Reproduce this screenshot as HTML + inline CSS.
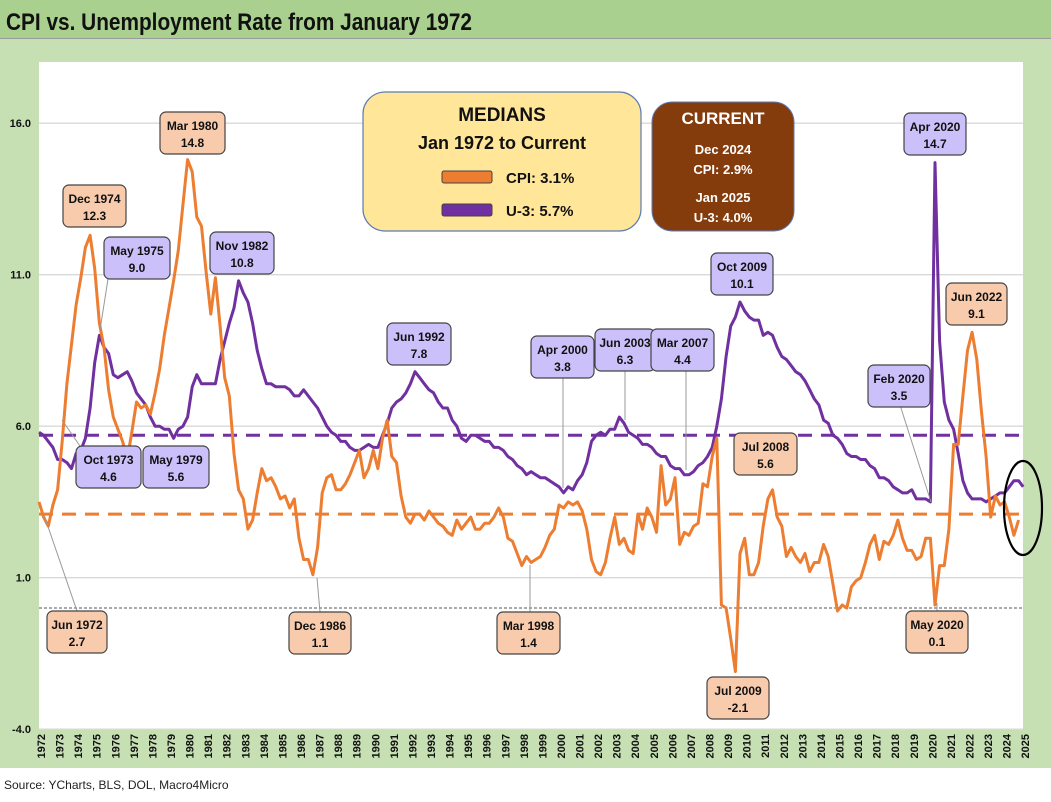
<!DOCTYPE html>
<html><head><meta charset="utf-8"><style>
body{margin:0;width:1051px;height:797px;overflow:hidden;background:#fff;font-family:"Liberation Sans",sans-serif}
svg text{font-family:"Liberation Sans",sans-serif}
</style></head><body>
<svg id="chart" width="1051" height="797" xmlns="http://www.w3.org/2000/svg">
<rect x="0" y="0" width="1051" height="38" fill="#a9d08e"/>
<line x1="0" y1="38.5" x2="1051" y2="38.5" stroke="#999"/>
<text x="6" y="30" font-size="24" font-weight="bold" fill="#111" textLength="466" lengthAdjust="spacingAndGlyphs">CPI vs. Unemployment Rate from January 1972</text>
<rect x="0" y="39" width="1051" height="729" fill="#c6e0b4"/>
<rect x="39" y="62" width="984" height="667" fill="#fff"/>
<g id="grid"></g><g id="yticks"></g><g id="xticks"></g><g id="series"></g><g id="notes"></g>
<text x="4" y="789" font-size="12" fill="#222">Source: YCharts, BLS, DOL, Macro4Micro</text>
</svg>
<script>
const startYear = 1972;
const yTicks = [16, 11, 6, 1, -4];
const years = [1972,1973,1974,1975,1976,1977,1978,1979,1980,1981,1982,1983,1984,1985,1986,1987,1988,1989,1990,1991,1992,1993,1994,1995,1996,1997,1998,1999,2000,2001,2002,2003,2004,2005,2006,2007,2008,2009,2010,2011,2012,2013,2014,2015,2016,2017,2018,2019,2020,2021,2022,2023,2024,2025];
const cpiMedian = 3.1;
const u3Median = 5.7;
// quarterly, starting Jan 1972
const cpi = [3.5,3.0,2.7,3.4, 3.9,5.5,7.4,8.7, 10.0,10.9,11.9,12.3, 11.2,9.4,8.6,7.2, 6.3,5.9,5.5,4.9, 5.8,6.8,6.6,6.7, 6.4,7.1,7.9,9.0, 9.9,10.8,11.8,13.3, 14.8,14.4,12.9,12.6, 11.1,9.7,10.9,9.3, 7.6,7.0,5.1,3.9, 3.6,2.6,2.9,3.8, 4.6,4.2,4.3,4.0, 3.6,3.7,3.3,3.6, 2.3,1.6,1.6,1.1, 2.0,3.8,4.3,4.4, 3.9,3.9,4.1,4.4, 4.8,5.2,4.3,4.6, 5.2,4.6,5.6,6.2, 5.0,4.8,3.7,3.0, 2.8,3.1,3.1,2.9, 3.2,3.0,2.8,2.7, 2.5,2.4,2.9,2.6, 2.8,3.0,2.6,2.6, 2.8,2.8,3.0,3.3, 3.0,2.3,2.2,1.8, 1.4,1.7,1.5,1.6, 1.7,2.0,2.4,2.6, 3.4,3.3,3.5,3.4, 3.5,3.2,2.6,1.6, 1.2,1.1,1.5,2.3, 3.0,2.1,2.3,1.9, 1.8,3.1,2.6,3.3, 3.0,2.5,4.7,3.4, 3.6,4.3,2.1,2.5, 2.4,2.7,2.8,4.1, 4.0,5.0,5.6,0.1, 0.0,-1.0,-2.1,1.8, 2.3,1.1,1.1,1.5, 2.7,3.6,3.9,3.0, 2.7,1.7,2.0,1.7, 1.5,1.8,1.2,1.5, 1.5,2.1,1.7,0.8, -0.1,0.1,0.0,0.7, 0.9,1.0,1.5,2.1, 2.4,1.6,2.2,2.1, 2.4,2.9,2.3,1.9, 1.9,1.6,1.7,2.3, 2.3,0.1,1.4,1.4, 2.6,5.4,5.4,7.0, 8.5,9.1,8.2,6.5, 5.0,3.0,3.7,3.4, 3.5,3.0,2.4,2.9];
const u3 = [5.8,5.7,5.5,5.3, 4.9,4.9,4.8,4.6, 5.1,5.2,5.6,6.6, 8.1,9.0,8.6,8.4, 7.7,7.6,7.7,7.8, 7.5,7.1,6.9,6.7, 6.3,6.0,6.0,5.9, 5.9,5.6,5.9,6.0, 6.3,7.3,7.7,7.4, 7.4,7.4,7.4,8.2, 8.8,9.4,9.9,10.8, 10.4,10.1,9.4,8.5, 7.9,7.4,7.4,7.3, 7.3,7.3,7.2,7.0, 7.0,7.2,7.0,6.8, 6.6,6.3,6.0,5.8, 5.7,5.5,5.5,5.3, 5.2,5.2,5.3,5.4, 5.3,5.3,5.7,6.1, 6.6,6.8,6.9,7.1, 7.4,7.8,7.6,7.4, 7.2,7.1,6.8,6.6, 6.6,6.2,6.0,5.6, 5.5,5.7,5.7,5.6, 5.5,5.5,5.3,5.3, 5.2,5.0,4.9,4.7, 4.6,4.4,4.5,4.4, 4.3,4.3,4.2,4.1, 4.0,3.8,4.0,3.9, 4.2,4.4,4.8,5.5, 5.7,5.8,5.7,5.9, 5.9,6.3,6.1,5.8, 5.7,5.6,5.4,5.4, 5.3,5.1,5.0,5.0, 4.7,4.6,4.6,4.4, 4.4,4.5,4.7,4.8, 5.0,5.3,6.0,6.9, 8.3,9.3,9.6,10.1, 9.8,9.6,9.5,9.5, 9.0,9.1,9.0,8.6, 8.3,8.2,8.0,7.8, 7.7,7.5,7.2,6.9, 6.7,6.2,6.1,5.7, 5.6,5.4,5.1,5.0, 5.0,4.9,4.9,4.7, 4.6,4.3,4.3,4.2, 4.0,3.9,3.8,3.8, 3.9,3.6,3.6,3.6, 3.5,14.7,8.8,6.8, 6.2,5.9,5.1,4.2, 3.8,3.6,3.6,3.6, 3.5,3.6,3.7,3.8, 3.8,4.0,4.2,4.2, 4.0];

const NS = "http://www.w3.org/2000/svg";
const X0 = 39, PXY = 18.57, Y0 = 608, PXU = 30.3;
function xScale(yr){ return X0 + (yr - startYear) * PXY; }
function yScale(v){ return Y0 - v * PXU; }
function mk(tag, attrs, parent){ const e = document.createElementNS(NS, tag); for (const k in attrs) e.setAttribute(k, attrs[k]); parent.appendChild(e); return e; }

const grid = document.getElementById('grid'), yt = document.getElementById('yticks'), xt = document.getElementById('xticks');
yTicks.forEach(v => {
  const l = mk('line', {x1: 39, x2: 1023, y1: yScale(v), y2: yScale(v), stroke: '#d9d9d9', 'stroke-width': 1.3}, grid);
  
  
  const t = mk('text', {x: 31, y: yScale(v) + 4, 'font-size': 11, 'font-weight': 'bold', 'text-anchor': 'end', fill: '#111'}, yt);
  t.textContent = v.toFixed(1);
  
  
});
const zl = mk('line', {x1: 39, x2: 1023, y1: yScale(0), y2: yScale(0), stroke: '#555', 'stroke-width': 1, 'stroke-dasharray': '3,2'}, grid);


years.forEach(y => {
  const x = xScale(y);
  const t = mk('text', {x: 0, y: 0, 'font-size': 11, 'font-weight': 'bold', 'text-anchor': 'end', fill: '#111', transform: `translate(${x + 6},734) rotate(-90)`}, xt);
  t.textContent = y;
  
  
});

const sg = document.getElementById('series');
const mc = mk('line', {x1: 39, x2: 1023, y1: yScale(cpiMedian), y2: yScale(cpiMedian), stroke: '#ed7d31', 'stroke-width': 3, 'stroke-dasharray': '14,9'}, sg);


const mu = mk('line', {x1: 39, x2: 1023, y1: yScale(u3Median), y2: yScale(u3Median), stroke: '#7030a0', 'stroke-width': 3, 'stroke-dasharray': '14,9'}, sg);


function path(arr){ return arr.map((v,i) => (i ? 'L' : 'M') + xScale(startYear + i/4).toFixed(1) + ',' + yScale(v).toFixed(1)).join(''); }
const pu = mk('path', {d: path(u3), fill: 'none', stroke: '#7030a0', 'stroke-width': 3, 'stroke-linejoin': 'round'}, sg);


const pc = mk('path', {d: path(cpi), fill: 'none', stroke: '#ed7d31', 'stroke-width': 3, 'stroke-linejoin': 'round'}, sg);



const notes = document.getElementById('notes');
const O = '#f8cbad', P = '#ccc0fa';
const ann = [
 ['Mar 1980','14.8',160,112,65,O,null],
 ['Dec 1974','12.3',63,185,63,O,null],
 ['May 1975','9.0',104,237,66,P,[108,279,100,330]],
 ['Nov 1982','10.8',210,232,64,P,null],
 ['Oct 1973','4.6',76,446,65,P,[80,446,62,420]],
 ['May 1979','5.6',143,446,66,P,null],
 ['Jun 1972','2.7',47,611,60,O,[77,611,44,515]],
 ['Dec 1986','1.1',289,612,62,O,[320,612,317,578]],
 ['Jun 1992','7.8',387,323,64,P,null],
 ['Apr 2000','3.8',531,336,63,P,[563,378,563,488]],
 ['Jun 2003','6.3',595,329,60,P,[625,371,625,420]],
 ['Mar 2007','4.4',651,329,63,P,[686,371,686,470]],
 ['Mar 1998','1.4',497,612,63,O,[530,612,530,565]],
 ['Oct 2009','10.1',711,253,62,P,null],
 ['Jul 2008','5.6',734,433,63,O,null],
 ['Jul 2009','-2.1',707,677,62,O,null],
 ['Apr 2020','14.7',904,113,62,P,null],
 ['Jun 2022','9.1',946,283,61,O,null],
 ['Feb 2020','3.5',868,365,62,P,[900,405,931,502]],
 ['May 2020','0.1',906,611,62,O,[937,611,937,603]]
];
ann.forEach(a => {
  const g = mk('g', {}, notes);
  
  
  if (a[6]) mk('line', {x1: a[6][0], y1: a[6][1], x2: a[6][2], y2: a[6][3], stroke: '#999', 'stroke-width': 1}, g);
  mk('rect', {x: a[2], y: a[3], width: a[4], height: 42, rx: 6, fill: a[5], stroke: '#444', 'stroke-width': 1.2}, g);
  const t1 = mk('text', {x: a[2] + a[4]/2, y: a[3] + 18, 'font-size': 12, 'font-weight': 'bold', 'text-anchor': 'middle', fill: '#111'}, g); t1.textContent = a[0];
  const t2 = mk('text', {x: a[2] + a[4]/2, y: a[3] + 35, 'font-size': 12, 'font-weight': 'bold', 'text-anchor': 'middle', fill: '#111'}, g); t2.textContent = a[1];
});
</script>
<svg width="1051" height="797" style="position:absolute;left:0;top:0" xmlns="http://www.w3.org/2000/svg">
<g>
<rect x="363" y="92" width="278" height="139" rx="22" fill="#ffe699" stroke="#5b7bb5" stroke-width="1.2"/>
<text x="502" y="121" font-size="19" font-weight="bold" text-anchor="middle" fill="#111">MEDIANS</text>
<text x="502" y="149" font-size="18" font-weight="bold" text-anchor="middle" fill="#111">Jan 1972 to Current</text>
<rect x="442" y="171" width="50" height="12" rx="2" fill="#ed7d31" stroke="#444"/>
<text x="506" y="183" font-size="15" font-weight="bold" fill="#111">CPI: 3.1%</text>
<rect x="442" y="204" width="50" height="12" rx="2" fill="#7030a0" stroke="#444"/>
<text x="506" y="216" font-size="15" font-weight="bold" fill="#111">U-3: 5.7%</text>
</g>
<g>
<rect x="652" y="102" width="142" height="129" rx="20" fill="#843c0c" stroke="#5b7bb5" stroke-width="1"/>
<text x="723" y="124" font-size="17" font-weight="bold" text-anchor="middle" fill="#fff">CURRENT</text>
<text x="723" y="154" font-size="13" font-weight="bold" text-anchor="middle" fill="#fff">Dec 2024</text>
<text x="723" y="174" font-size="13" font-weight="bold" text-anchor="middle" fill="#fff">CPI: 2.9%</text>
<text x="723" y="202" font-size="13" font-weight="bold" text-anchor="middle" fill="#fff">Jan 2025</text>
<text x="723" y="222" font-size="13" font-weight="bold" text-anchor="middle" fill="#fff">U-3: 4.0%</text>
</g>
<ellipse cx="1023" cy="508" rx="19" ry="47" fill="none" stroke="#000" stroke-width="2.2"/>
</svg>
</body></html>
